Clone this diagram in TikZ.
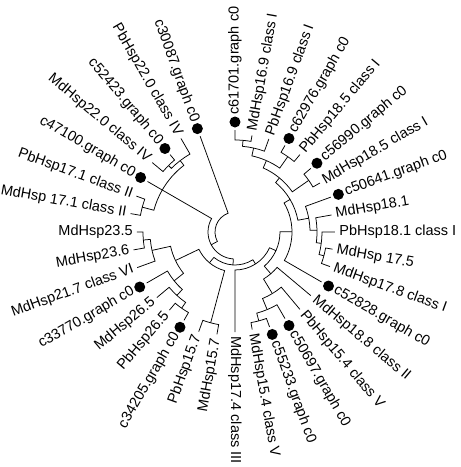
\documentclass[tikz,border=0pt]{standalone}
\usepackage{fontspec}
\setmainfont{Liberation Sans}
\usetikzlibrary{calc}

\begin{document}
\begin{tikzpicture}[x=1pt,y=1pt,line width=0.75pt,
  every node/.style={font=\fontsize{14.5}{17}\selectfont,inner sep=0pt},
  hspdot/.style={circle,fill=black,minimum size=11pt},
  branch/.style={to path={let \p1=(\tikztostart),\p2=(\tikztotarget),
    \n1={atan2(\y1,\x1)},\n2={atan2(\y2,\x2)},\n3={veclen(\x1,\y1)},
    \n4={\n2+360*((\n1-\n2)>180)-360*((\n2-\n1)>180)} in
    (\tikztostart) arc[start angle=\n1,end angle=\n4,radius=\n3] -- (\tikztotarget)}}]
  \useasboundingbox (-235,-235) rectangle (226,232);

  \foreach \ang/\rr/\dt/\txt [count=\i] in {
      90/102/1/c61701.graph c0, 80/98/0/MdHsp16.9 class I,
      70/99/0/PbHsp16.9 class I, 60/100/1/c62976.graph c0,
      50/101/0/PbHsp18.5 class I, 40/99/1/c56990.graph c0,
      30/98/0/MdHsp18.5 class I, 20/102/1/c50641.graph c0,
      10/98/0/MdHsp18.1, 0/100/0/PbHsp18.1 class I,
      -10/99/0/MdHsp 17.5, -20/101/0/MdHsp17.8 class I,
      -30/100/1/c52828.graph c0, -40/99/0/MdHsp18.8 class II,
      -50/101/0/PbHsp15.4 class V, -60/100/1/c50697.graph c0,
      -70/101/1/c55233.graph c0, -80/99/0/MdHsp15.4 class V,
      -90/100/0/MdHsp17.4 class III, -100/104/0/MdHsp15.7,
      -110/106/0/PbHsp15.7, -120/102/1/c34205.graph c0,
      -130/102/0/PbHsp26.5, -140/102/0/MdHsp26.5,
      -150/102/1/c33770.graph c0, -160/104/0/MdHsp21.7 class VI,
      -170/103/0/MdHsp23.6, -180/98/0/MdHsp23.5,
      -190/106/0/MdHsp 17.1 class II, -200/105/0/PbHsp17.1 class II,
      -210/101/1/c47100.graph c0, -220/108/0/MdHsp22.0 class IV,
      -230/101/1/c52423.graph c0, -240/108/0/PbHsp22.0 class IV,
      -250/102/1/c30087.graph c0} {
    \coordinate (t\i) at (\ang:\rr);
    \ifnum\dt=1
      \pgfmathsetmacro\rd{\rr+8}
      \node[hspdot] (d\i) at (\ang:\rd) {};
      \pgfmathsetmacro\rl{\rr+15}
    \else
      \pgfmathsetmacro\rl{\rr+4}
    \fi
    \ifdim\ang pt<-90pt
      \node[anchor=east,rotate=\ang+180] (l\i) at (\ang:\rl) {\txt};
    \else
      \node[anchor=west,rotate=\ang] (l\i) at (\ang:\rl) {\txt};
    \fi
  }

  \coordinate (a1) at (85:92);
  \coordinate (a2) at (77.5:86);
  \coordinate (a3) at (55:92);
  \coordinate (a4) at (66.25:78);
  \coordinate (a5) at (35:90);
  \coordinate (a6) at (50.6:70);
  \coordinate (b1) at (-15:92);
  \coordinate (b2) at (-7.5:87);
  \coordinate (b3) at (1.25:82);
  \coordinate (b4) at (10.6:75);
  \coordinate (cI) at (30.6:64);
  \coordinate (y1) at (0.3:57);
  \coordinate (c1) at (-75:92);
  \coordinate (c2) at (-67.5:84);
  \coordinate (c3) at (-58.75:72);
  \coordinate (c4) at (-49.4:55);
  \coordinate (r5) at (-24.5:45);
  \coordinate (r4) at (-57.25:38);
  \coordinate (d1) at (-105:94);
  \coordinate (e1) at (-125:93);
  \coordinate (e2) at (-132.5:86);
  \coordinate (e3) at (-141.25:78);
  \coordinate (f1) at (-175:92);
  \coordinate (f2) at (-167.5:85);
  \coordinate (e4) at (-154.4:66);
  \coordinate (ll) at (-129.7:40);
  \coordinate (r3) at (-93.5:33);
  \coordinate (h1) at (165:96);
  \coordinate (g1) at (135:94);
  \coordinate (g2) at (127.5:90);
  \coordinate (ul) at (150:84);
  \coordinate (r2) at (-151.75:27);
  \coordinate (root) at (159:20);

  \foreach \pa/\ch in {a1/t1,a1/t2,a2/a1,a2/t3,a3/t4,a3/t5,a4/a2,a4/a3,
      a5/t6,a5/t7,a6/a4,a6/a5,b1/t11,b1/t12,b2/t10,b2/b1,b3/t9,b3/b2,
      b4/t8,b4/b3,cI/a6,cI/b4,y1/cI,y1/t13,c1/t17,c1/t18,c2/t16,c2/c1,
      c3/t15,c3/c2,c4/t14,c4/c3,r5/y1,r5/c4,r4/t19,r4/r5,d1/t20,d1/t21,
      e1/t22,e1/t23,e2/e1,e2/t24,e3/e2,e3/t25,f1/t27,f1/t28,f2/t26,f2/f1,
      e4/e3,e4/f2,ll/d1,ll/e4,r3/ll,r3/r4,h1/t29,h1/t30,g1/t32,g1/t33,
      g2/g1,g2/t34,ul/h1,ul/t31,ul/g2,r2/ul,r2/r3,root/t35,root/r2}
    \draw (\pa) to[branch] (\ch);
\end{tikzpicture}
\end{document}
